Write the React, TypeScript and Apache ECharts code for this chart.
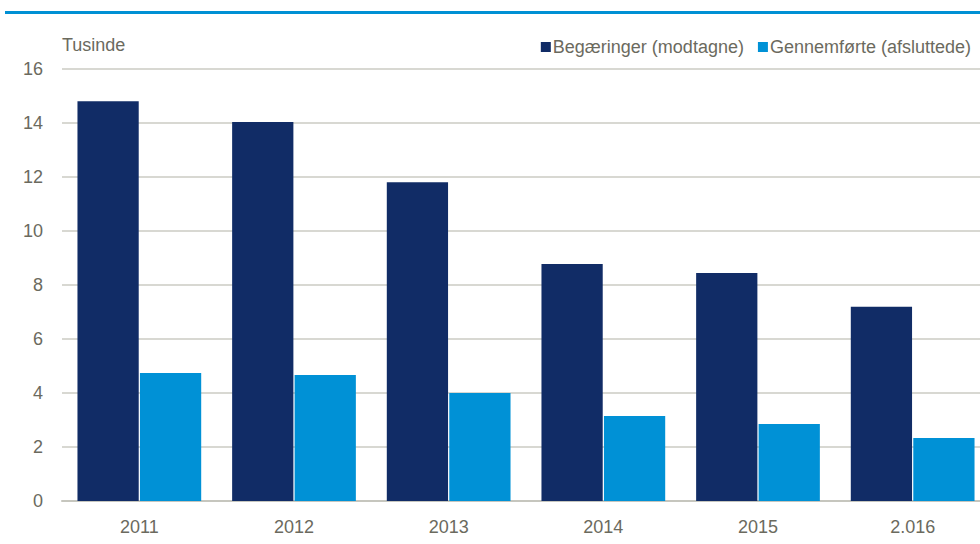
import React, { useEffect, useRef } from "react";
import * as echarts from "echarts";

const categories = ["2011", "2012", "2013", "2014", "2015", "2.016"];
const begaeringer = [14.81, 14.04, 11.81, 8.78, 8.44, 7.19];
const gennemfoerte = [4.74, 4.67, 4.0, 3.15, 2.85, 2.33];
const seriesNames = ["Begæringer (modtagne)", "Gennemførte (afsluttede)"];

const FONT = "'Liberation Sans Narrow', 'Liberation Sans', Arial, sans-serif";
const TXT = "#6b6a5e";

export default function App() {
  const ref = useRef<HTMLDivElement>(null);
  useEffect(() => {
    if (!ref.current) return;
    const chart = echarts.init(ref.current, undefined, { renderer: "svg" });
    chart.setOption({
      animation: false,
      textStyle: { fontFamily: FONT },
      grid: { left: 62, right: 0, top: 69, bottom: 43, containLabel: false },
      legend: {
        right: 14,
        top: 33,
        itemWidth: 10,
        itemHeight: 10,
        itemGap: 14,
        icon: "rect",
        textStyle: { fontSize: 18, color: TXT, fontFamily: FONT, padding: [0, 0, 0, -3] },
        data: seriesNames,
      },
      graphic: [
        { type: "rect", left: 5, top: 11, shape: { width: 985, height: 3 }, style: { fill: "#0090d4" } },
        { type: "text", left: 62, top: 36, style: { text: "Tusinde", fontSize: 18, fill: TXT, fontFamily: FONT } },
      ],
      xAxis: {
        type: "category",
        data: categories,
        axisLine: { lineStyle: { color: "#c6c6be", width: 2 } },
        axisTick: { show: false },
        axisLabel: { fontSize: 18, color: TXT, margin: 17, fontFamily: FONT },
      },
      yAxis: {
        type: "value",
        min: 0,
        max: 16,
        interval: 2,
        axisLine: { show: false },
        axisTick: { show: false },
        axisLabel: { fontSize: 18, color: TXT, margin: 19, fontFamily: FONT },
        splitLine: { lineStyle: { color: "#cbcbc3", width: 1.5 } },
      },
      series: [
        {
          name: seriesNames[0],
          type: "bar",
          data: begaeringer,
          barGap: "2%",
          barCategoryGap: "20%",
          itemStyle: { color: "#112c66" },
        },
        {
          name: seriesNames[1],
          type: "bar",
          data: gennemfoerte,
          itemStyle: { color: "#0091d6" },
        },
      ],
    });
    return () => chart.dispose();
  }, []);
  return (
    <div style={{ position: "fixed", left: 0, top: 0, width: 980, height: 544, overflow: "hidden", background: "#fff" }}>
      <div ref={ref} style={{ width: 990, height: 544 }} />
    </div>
  );
}
